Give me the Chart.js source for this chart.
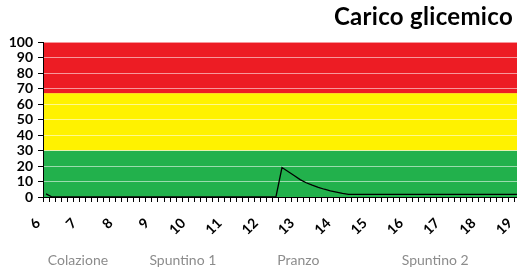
<!DOCTYPE html>
<html>
<head>
<meta charset="utf-8">
<script src="https://cdn.jsdelivr.net/npm/chart.js@4"></script>
<style>
  html, body { margin: 0; padding: 0; background: #fff; overflow: hidden; }
  #wrap { position: relative; width: 517px; height: 270px; overflow: hidden; }
  #title { position: absolute; right: 4px; top: 1px; font: bold 24px Lato, sans-serif; letter-spacing: 0.3px; color: #000; }
  canvas { position: absolute; left: 0; top: 0; }
</style>
</head>
<body>
<div id="wrap">
  <canvas id="glycemicChart" width="528" height="270"></canvas>
  <div id="title">Carico glicemico</div>
</div>
<script>
  // fasce orarie ogni 10 minuti, dalle 6:00 alle 19:10
  const timeSlots = [];
  for (let h = 6; h <= 19; h++) {
    for (let m = 0; m < 60; m += 10) {
      if (h === 19 && m > 10) break;
      timeSlots.push(h + ':' + String(m).padStart(2, '0'));
    }
  }

  // carico glicemico
  const glycemicLoad = [
    2, 0, 0, 0, 0, 0, 0, 0, 0, 0,
    0, 0, 0, 0, 0, 0, 0, 0, 0, 0,
    0, 0, 0, 0, 0, 0, 0, 0, 0, 0,
    0, 0, 0, 0, 0, 0, 0, 0, 0, 19,
    16.5, 13.9, 11.2, 9.2, 7.6, 6.2, 5.0, 3.9, 3.1, 2.3,
    1.7, 1.7, 1.7, 1.7, 1.7, 1.7, 1.7, 1.7, 1.7, 1.7,
    1.7, 1.7, 1.7, 1.7, 1.7, 1.7, 1.7, 1.7, 1.7, 1.7,
    1.7, 1.7, 1.7, 1.7, 1.7, 1.7, 1.7, 1.7, 1.7, 1.7
  ];

  // pasti (posizione in ore)
  const mealNames = ['Colazione', 'Spuntino 1', 'Pranzo', 'Spuntino 2'];
  const mealHours = [6.88, 9.77, 12.95, 16.72];

  // limiti delle fasce: verde, giallo, rosso
  const zoneLimits = [0, 30, 67, 100];
  const zoneColors = ['#22b14c', '#fff200', '#ed1c24'];

  const mealSlots = mealHours.map(h => (h - 6) * 6);

  const zonePlugin = {
    id: 'zones',
    beforeDraw(chart) {
      const { ctx, chartArea: a, scales: { y } } = chart;
      ctx.save();
      for (let i = 0; i < zoneLimits.length - 1; i++) {
        const top = y.getPixelForValue(zoneLimits[i + 1]);
        const bottom = y.getPixelForValue(zoneLimits[i]);
        ctx.fillStyle = zoneColors[i];
        ctx.fillRect(a.left, top, a.right - a.left, bottom - top);
      }
      ctx.restore();
    }
  };

  const noSidePadding = s => { s.paddingLeft = 0; s.paddingRight = 0; };

  const ctx = document.getElementById('glycemicChart').getContext('2d');
  const chart = new Chart(ctx, {
    type: 'line',
    data: {
      labels: timeSlots,
      datasets: [{
        label: 'Carico glicemico',
        data: glycemicLoad,
        borderColor: '#000',
        borderWidth: 1.3,
        pointRadius: 0,
        tension: 0,
        fill: false
      }]
    },
    options: {
      responsive: false,
      animation: false,
      layout: { padding: { top: 42, right: 1, left: 0, bottom: 0 } },
      plugins: {
        legend: { display: false },
        tooltip: { enabled: false }
      },
      scales: {
        x: {
          type: 'category',
          offset: true,
          grid: { offset: true, drawOnChartArea: false, tickColor: '#000', tickLength: 5 },
          border: { color: '#000' },
          afterFit: s => { s.height = 40; noSidePadding(s); },
          ticks: {
            autoSkip: false,
            minRotation: 45,
            maxRotation: 45,
            padding: 13,
            labelOffset: -8,
            color: '#000',
            font: { family: 'Lato', weight: 'bold', size: 14 },
            callback: (v, i) => i % 6 === 0 ? String(6 + i / 6) : ''
          }
        },
        x2: {
          type: 'linear',
          position: 'bottom',
          weight: 1,
          min: -0.5,
          max: timeSlots.length - 0.5,
          grid: { display: false },
          border: { display: false },
          afterBuildTicks: s => { s.ticks = mealSlots.map(v => ({ value: v })); },
          afterFit: s => { s.height = 33; noSidePadding(s); },
          ticks: {
            autoSkip: false,
            maxRotation: 0,
            padding: 7,
            color: '#8c8c8c',
            font: { family: 'Lato', size: 14 },
            callback: (v, i) => mealNames[i]
          }
        },
        y: {
          min: 0,
          max: 100,
          afterFit: s => { s.width = 43; },
          grid: { color: 'rgba(255,255,255,0.55)', tickColor: '#000', tickLength: 5 },
          border: { color: '#000' },
          ticks: {
            stepSize: 10,
            autoSkip: false,
            padding: 5,
            color: '#000',
            font: { family: 'Lato', weight: 'bold', size: 14 }
          }
        }
      }
    },
    plugins: [zonePlugin]
  });
</script>
</body>
</html>
